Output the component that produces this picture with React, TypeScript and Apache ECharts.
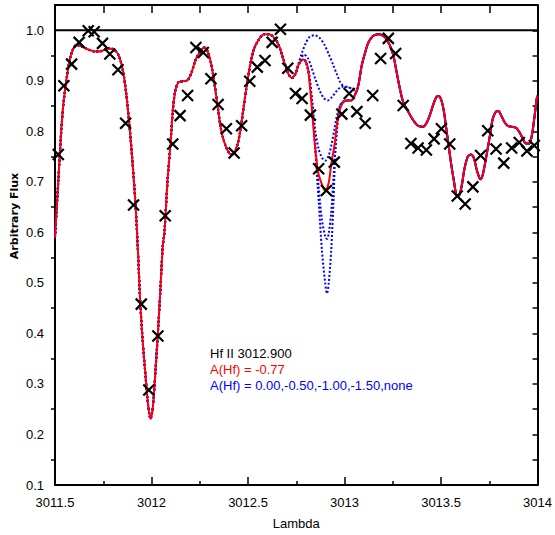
import React, { useEffect, useRef } from "react";
import * as echarts from "echarts";

// Synthetic spectrum, A(Hf) = -0.77 (red)
const modelX = [
  3011.5, 3011.517, 3011.531, 3011.543, 3011.56, 3011.577, 3011.594, 3011.612, 3011.638, 3011.672,
  3011.706, 3011.741, 3011.775, 3011.806, 3011.83, 3011.852, 3011.87, 3011.887, 3011.904, 3011.918,
  3011.93, 3011.942, 3011.955, 3011.969, 3011.981, 3011.995, 3012.007, 3012.021, 3012.032, 3012.045,
  3012.058, 3012.067, 3012.084, 3012.098, 3012.11, 3012.122, 3012.139, 3012.161, 3012.187, 3012.208,
  3012.23, 3012.256, 3012.273, 3012.29, 3012.307, 3012.325, 3012.342, 3012.359, 3012.376, 3012.393,
  3012.411, 3012.424, 3012.445, 3012.462, 3012.479, 3012.496, 3012.514, 3012.531, 3012.557, 3012.582,
  3012.608, 3012.634, 3012.66, 3012.677, 3012.694, 3012.711, 3012.728, 3012.746, 3012.76, 3012.775,
  3012.789, 3012.8, 3012.811, 3012.828, 3012.845, 3012.862, 3012.88, 3012.9, 3012.918, 3012.931,
  3012.948, 3012.96, 3012.973, 3012.986, 3013.007, 3013.034, 3013.055, 3013.072, 3013.089, 3013.107,
  3013.124, 3013.149, 3013.175, 3013.201, 3013.218, 3013.236, 3013.253, 3013.27, 3013.287, 3013.304,
  3013.33, 3013.356, 3013.381, 3013.407, 3013.424, 3013.442, 3013.459, 3013.476, 3013.488, 3013.502,
  3013.515, 3013.527, 3013.541, 3013.553, 3013.567, 3013.579, 3013.591, 3013.605, 3013.622, 3013.639,
  3013.656, 3013.67, 3013.687, 3013.705, 3013.716, 3013.733, 3013.751, 3013.768, 3013.785, 3013.797,
  3013.811, 3013.828, 3013.845, 3013.866, 3013.888, 3013.905, 3013.923, 3013.94, 3013.957, 3013.971,
  3013.983, 3013.996, 3014.0,
];
const modelY = [
  0.59, 0.701, 0.793, 0.852, 0.904, 0.943, 0.963, 0.971, 0.968, 0.962,
  0.958, 0.959, 0.964, 0.962, 0.95, 0.92, 0.871, 0.806, 0.727, 0.65,
  0.56, 0.459, 0.381, 0.316, 0.263, 0.231, 0.254, 0.329, 0.394, 0.479,
  0.571, 0.6, 0.708, 0.773, 0.839, 0.878, 0.897, 0.899, 0.901, 0.917,
  0.943, 0.96, 0.966, 0.959, 0.937, 0.897, 0.852, 0.806, 0.78, 0.763,
  0.754, 0.755, 0.773, 0.806, 0.852, 0.897, 0.937, 0.963, 0.982, 0.992,
  0.992, 0.986, 0.97, 0.95, 0.93, 0.912, 0.906, 0.914, 0.93, 0.94,
  0.942, 0.937, 0.924, 0.858, 0.78, 0.721, 0.698, 0.682, 0.698, 0.734,
  0.773, 0.812, 0.839, 0.853, 0.861, 0.861, 0.873, 0.892, 0.93, 0.956,
  0.976, 0.989, 0.992, 0.989, 0.982, 0.969, 0.95, 0.917, 0.884, 0.858,
  0.839, 0.822, 0.811, 0.809, 0.816, 0.832, 0.852, 0.868, 0.87, 0.861,
  0.839, 0.806, 0.767, 0.734, 0.701, 0.675, 0.672, 0.688, 0.727, 0.75,
  0.754, 0.747, 0.721, 0.705, 0.714, 0.747, 0.786, 0.825, 0.839, 0.84,
  0.832, 0.819, 0.811, 0.809, 0.807, 0.799, 0.786, 0.776, 0.776, 0.793,
  0.825, 0.865, 0.87,
];

// Observed spectrum (crosses)
const obsX = [
  3011.517, 3011.546, 3011.586, 3011.625, 3011.672, 3011.703, 3011.746, 3011.784, 3011.826, 3011.866,
  3011.907, 3011.947, 3011.986, 3012.033, 3012.071, 3012.11, 3012.148, 3012.187, 3012.23, 3012.268,
  3012.308, 3012.345, 3012.388, 3012.428, 3012.467, 3012.509, 3012.548, 3012.588, 3012.625, 3012.668,
  3012.706, 3012.746, 3012.78, 3012.823, 3012.866, 3012.906, 3012.947, 3012.986, 3013.024, 3013.064,
  3013.107, 3013.146, 3013.187, 3013.227, 3013.265, 3013.304, 3013.344, 3013.381, 3013.424, 3013.464,
  3013.502, 3013.545, 3013.584, 3013.625, 3013.665, 3013.705, 3013.742, 3013.785, 3013.825, 3013.866,
  3013.905, 3013.945, 3013.983,
];
const obsY = [
  0.754, 0.89, 0.933, 0.976, 0.999, 0.997, 0.974, 0.953, 0.922, 0.816,
  0.654, 0.458, 0.288, 0.395, 0.633, 0.775, 0.831, 0.871, 0.966, 0.956,
  0.904, 0.853, 0.805, 0.757, 0.811, 0.899, 0.927, 0.94, 0.976, 1.002,
  0.925, 0.875, 0.865, 0.832, 0.726, 0.683, 0.739, 0.834, 0.875, 0.839,
  0.816, 0.871, 0.944, 0.984, 0.954, 0.851, 0.776, 0.767, 0.763, 0.785,
  0.805, 0.775, 0.672, 0.656, 0.69, 0.752, 0.801, 0.765, 0.737, 0.767,
  0.778, 0.761, 0.772,
];

// Blue comparison syntheses (only the Hf II 3012.900 region differs)
const hf000X = [3012.8, 3012.815, 3012.832, 3012.849, 3012.866, 3012.883, 3012.9, 3012.909, 3012.918, 3012.931, 3012.943, 3012.952, 3012.965, 3012.978, 3012.99];
const hf000Y = [0.936, 0.912, 0.858, 0.76, 0.662, 0.564, 0.499, 0.479, 0.499, 0.564, 0.662, 0.76, 0.825, 0.852, 0.858];
const hf050X = [3012.8, 3012.815, 3012.832, 3012.849, 3012.866, 3012.883, 3012.9, 3012.909, 3012.918, 3012.931, 3012.943, 3012.955, 3012.967, 3012.98, 3012.99];
const hf050Y = [0.937, 0.914, 0.855, 0.77, 0.69, 0.625, 0.592, 0.587, 0.597, 0.64, 0.71, 0.775, 0.825, 0.85, 0.857];
const hf100X = [3012.8, 3012.815, 3012.832, 3012.849, 3012.866, 3012.883, 3012.9, 3012.918, 3012.933, 3012.948, 3012.963, 3012.978, 3012.99];
const hf100Y = [0.938, 0.918, 0.86, 0.8, 0.765, 0.748, 0.742, 0.752, 0.775, 0.805, 0.835, 0.852, 0.857];
const hf150X = [3012.77, 3012.79, 3012.81, 3012.83, 3012.85, 3012.87, 3012.89, 3012.912, 3012.935, 3012.96, 3012.985, 3013.01, 3013.04, 3013.06];
const hf150Y = [0.938, 0.952, 0.945, 0.925, 0.902, 0.882, 0.867, 0.861, 0.868, 0.88, 0.888, 0.888, 0.884, 0.878];
const hfNoneX = [3012.76, 3012.78, 3012.8, 3012.82, 3012.845, 3012.87, 3012.895, 3012.918, 3012.94, 3012.96, 3012.978, 3012.995, 3013.02, 3013.045, 3013.06];
const hfNoneY = [0.932, 0.956, 0.975, 0.987, 0.99, 0.985, 0.972, 0.953, 0.933, 0.913, 0.897, 0.889, 0.887, 0.884, 0.878];

const continuumY = 1.0;
const xTicks = { min: 3011.5, max: 3014, step: 0.5 };
const yTicks = { min: 0.1, max: 1.05, step: 0.1 };

const zip = (xs: number[], ys: number[]) => xs.map((x, i) => [x, ys[i]]);

function spliceWindow(winX: number[], winY: number[]) {
  const lo = winX[0];
  const hi = winX[winX.length - 1];
  const outside = zip(modelX, modelY).filter(([x]) => x < lo || x > hi);
  return outside.concat(zip(winX, winY)).sort((a, b) => a[0] - b[0]);
}

const FONT = "'Liberation Sans', Arial, Helvetica, sans-serif";

export default function App() {
  const ref = useRef<HTMLDivElement>(null);
  useEffect(() => {
    if (!ref.current) return;
    const chart = echarts.init(ref.current, undefined, { renderer: "svg" });
    const blueStyle = {
      type: "line",
      showSymbol: false,
      symbol: "none",
      smooth: 0.3,
      lineStyle: { color: "#0000ff", width: 2, type: [2, 2] },
      z: 2,
    };
    const blues = [
      spliceWindow(hf000X, hf000Y),
      spliceWindow(hf050X, hf050Y),
      spliceWindow(hf100X, hf100Y),
      spliceWindow(hf150X, hf150Y),
      spliceWindow(hfNoneX, hfNoneY),
    ].map((d) => ({ ...blueStyle, data: d }));

    const axisLine = { show: true, onZero: false, lineStyle: { color: "#000", width: 2 } };
    chart.setOption({
      animation: false,
      backgroundColor: "#fff",
      grid: { left: 55, right: 15, top: 5, bottom: 45, containLabel: false },
      xAxis: [
        {
          type: "value",
          position: "bottom",
          min: xTicks.min,
          max: xTicks.max,
          interval: xTicks.step,
          axisLine,
          axisTick: { show: true, inside: true, length: 8, lineStyle: { color: "#000", width: 1.5 } },
          minorTick: { show: true, splitNumber: 2, length: 4, lineStyle: { color: "#000", width: 1.5 } },
          splitLine: { show: false },
          axisLabel: {
            color: "#000",
            fontSize: 13,
            fontFamily: FONT,
            margin: 11,
            formatter: (v: number) => String(Math.round(v * 10) / 10),
          },
          name: "Lambda",
          nameLocation: "middle",
          nameGap: 32,
          nameTextStyle: { color: "#000", fontSize: 13, fontFamily: FONT },
        },
        {
          type: "value",
          position: "top",
          min: xTicks.min,
          max: xTicks.max,
          interval: xTicks.step,
          axisLine,
          axisTick: { show: true, inside: true, length: 8, lineStyle: { color: "#000", width: 1.5 } },
          minorTick: { show: true, splitNumber: 2, length: 8, lineStyle: { color: "#000", width: 1.5 } },
          splitLine: { show: false },
          axisLabel: { show: false },
        },
      ],
      yAxis: [
        {
          type: "value",
          position: "left",
          min: yTicks.min,
          max: yTicks.max,
          interval: yTicks.step,
          axisLine,
          axisTick: { show: false },
          minorTick: { show: true, splitNumber: 2, length: 4, lineStyle: { color: "#000", width: 1.5 } },
          splitLine: { show: false },
          axisLabel: {
            color: "#000",
            fontSize: 13,
            fontFamily: FONT,
            margin: 11,
            formatter: (v: number) => (v > 1.001 ? "" : v.toFixed(1)),
          },
        },
        {
          type: "value",
          position: "right",
          min: yTicks.min,
          max: yTicks.max,
          interval: yTicks.step,
          axisLine,
          axisTick: { show: true, inside: true, length: 5, lineStyle: { color: "#000", width: 1.5 } },
          minorTick: { show: true, splitNumber: 2, length: 5, lineStyle: { color: "#000", width: 1.5 } },
          splitLine: { show: false },
          axisLabel: { show: false },
        },
      ],
      series: [
        ...blues,
        {
          type: "line",
          symbol: "none",
          smooth: 0.3,
          data: zip(modelX, modelY),
          lineStyle: { color: "#ff0000", width: 2 },
          z: 3,
        },
        {
          type: "line",
          symbol: "none",
          data: [
            [xTicks.min, continuumY],
            [xTicks.max, continuumY],
          ],
          lineStyle: { color: "#000", width: 2 },
          z: 4,
        },
        {
          type: "scatter",
          data: zip(obsX, obsY),
          symbol: "path://M0,0L10,10M10,0L0,10",
          symbolSize: 11,
          itemStyle: { color: "none", borderColor: "#000", borderWidth: 2.2, opacity: 1 },
          z: 5,
        },
      ],
      graphic: [
        {
          type: "text",
          x: 14,
          y: 216,
          rotation: Math.PI / 2,
          style: {
            text: "Arbitrary Flux",
            fill: "#000",
            fontSize: 11,
            fontWeight: "bold",
            fontFamily: "'DejaVu Sans', sans-serif",
            align: "center",
            verticalAlign: "middle",
          },
        },
        {
          type: "text",
          x: 210,
          y: 353,
          style: { text: "Hf II 3012.900", fill: "#000", fontSize: 13, fontFamily: FONT, align: "left", verticalAlign: "middle" },
        },
        {
          type: "text",
          x: 210,
          y: 369,
          style: { text: "A(Hf) = -0.77", fill: "#ff0000", fontSize: 13, fontFamily: FONT, align: "left", verticalAlign: "middle" },
        },
        {
          type: "text",
          x: 210,
          y: 385,
          style: {
            text: "A(Hf) = 0.00,-0.50,-1.00,-1.50,none",
            fill: "#0000ff",
            fontSize: 13,
            fontFamily: FONT,
            align: "left",
            verticalAlign: "middle",
          },
        },
      ],
    });
    return () => chart.dispose();
  }, []);
  return (
    <div
      ref={ref}
      style={{ position: "fixed", left: 0, top: 0, width: 555, height: 535, background: "#fff" }}
    />
  );
}
